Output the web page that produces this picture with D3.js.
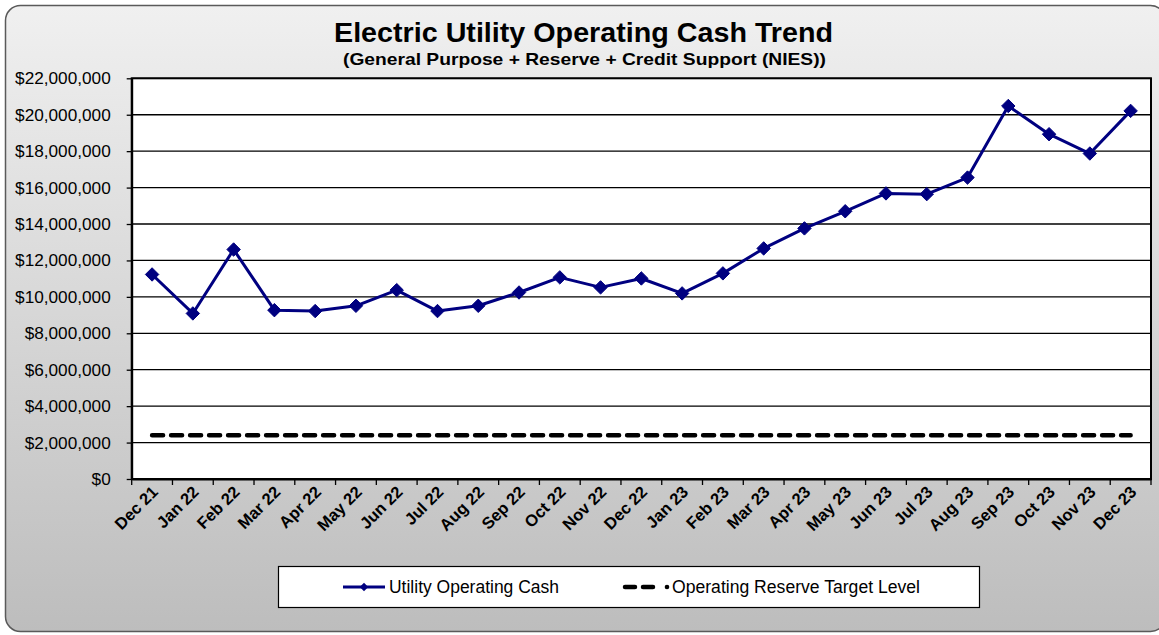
<!DOCTYPE html>
<html><head><meta charset="utf-8">
<script src="https://cdn.jsdelivr.net/npm/d3@7"></script>
<style>html,body{margin:0;padding:0;background:#fff;}svg{display:block;font-family:"Liberation Sans",Arial,sans-serif;}</style>
</head><body>
<script>
const categories = ["Dec 21","Jan 22","Feb 22","Mar 22","Apr 22","May 22","Jun 22","Jul 22","Aug 22","Sep 22","Oct 22","Nov 22","Dec 22","Jan 23","Feb 23","Mar 23","Apr 23","May 23","Jun 23","Jul 23","Aug 23","Sep 23","Oct 23","Nov 23","Dec 23"];
const operatingCash = [11230000,9090000,12600000,9270000,9220000,9510000,10370000,9220000,9510000,10240000,11070000,10520000,11010000,10190000,11290000,12660000,13760000,14700000,15680000,15640000,16550000,20480000,18930000,17870000,20210000];
const reserveTarget = categories.map(() => 2400000);
const yTicks = [0,2000000,4000000,6000000,8000000,10000000,12000000,14000000,16000000,18000000,20000000,22000000];
const titleText = "Electric Utility Operating Cash Trend";
const subtitleText = "(General Purpose + Reserve + Credit Support (NIES))";
const legendLabels = ["Utility Operating Cash","Operating Reserve Target Level"];

const W = 1159, H = 635;
const plot = {left:131.7, right:1151, top:78.3, bottom:479};
const svg = d3.select("body").append("svg").attr("width",W).attr("height",H);

const defs = svg.append("defs");
const grad = defs.append("linearGradient").attr("id","bg").attr("x1",0).attr("y1",0).attr("x2",0).attr("y2",1);
grad.append("stop").attr("offset","0%").attr("stop-color","#f0f0f0");
grad.append("stop").attr("offset","100%").attr("stop-color","#bdbdbd");

svg.append("rect").attr("x",5.5).attr("y",5.5).attr("width",1160).attr("height",626).attr("rx",15)
  .attr("fill","url(#bg)").attr("stroke","#5a5a5a").attr("stroke-width",1.5);

svg.append("text").attr("x",334).attr("y",42)
  .attr("font-size",28).attr("font-weight","bold").attr("fill","#000")
  .attr("textLength",499).attr("lengthAdjust","spacingAndGlyphs").text(titleText);
svg.append("text").attr("x",343).attr("y",65)
  .attr("font-size",17).attr("font-weight","bold").attr("fill","#000")
  .attr("textLength",483).attr("lengthAdjust","spacingAndGlyphs").text(subtitleText);

const x = d3.scaleBand().domain(categories).range([plot.left,plot.right]).padding(0);
const y = d3.scaleLinear().domain([0,22000000]).range([plot.bottom,plot.top]);

svg.append("rect").attr("x",plot.left).attr("y",plot.top).attr("width",plot.right-plot.left).attr("height",plot.bottom-plot.top)
  .attr("fill","#fff");

svg.append("g").selectAll("line").data(yTicks.filter(d=>d>0)).join("line")
  .attr("x1",plot.left).attr("x2",plot.right).attr("y1",d=>y(d)).attr("y2",d=>y(d))
  .attr("stroke","#000").attr("stroke-width",1.3);

svg.append("rect").attr("x",plot.left).attr("y",plot.top).attr("width",plot.right-plot.left).attr("height",plot.bottom-plot.top)
  .attr("fill","none").attr("stroke","#000").attr("stroke-width",2);

const fmt = d => "$" + d3.format(",")(d);
const yAxis = d3.axisLeft(y).tickValues(yTicks).tickSizeInner(5).tickSizeOuter(0).tickPadding(16).tickFormat(fmt);
const gy = svg.append("g").attr("transform",`translate(${plot.left},0)`).call(yAxis);
gy.select(".domain").attr("stroke","#000").attr("stroke-width",2);
gy.selectAll(".tick line").attr("stroke","#000").attr("stroke-width",1.3);
gy.selectAll(".tick text").attr("font-size",17.2).attr("fill","#000").attr("font-family","Liberation Sans, Arial, sans-serif");

const xAxis = d3.axisBottom(x).tickSize(0).tickPadding(0);
const gx = svg.append("g").attr("transform",`translate(0,${plot.bottom})`).call(xAxis);
gx.select(".domain").attr("stroke","#000").attr("stroke-width",2);
gx.selectAll(".tick text").attr("font-size",16.5).attr("font-weight","bold").attr("fill","#000")
  .attr("font-family","Liberation Sans, Arial, sans-serif")
  .attr("text-anchor","end").attr("dy",0).attr("transform","translate(7,14) rotate(-45)");
const boundaries = categories.map(c=>x(c)).concat([x(categories[categories.length-1])+x.bandwidth()]);
svg.append("g").selectAll("line").data(boundaries).join("line")
  .attr("x1",d=>d).attr("x2",d=>d).attr("y1",plot.bottom).attr("y2",plot.bottom+6)
  .attr("stroke","#000").attr("stroke-width",1.3);

const cx = c => x(c) + x.bandwidth()/2;

svg.append("path").datum(reserveTarget)
  .attr("d", d3.line().x((d,i)=>cx(categories[i])).y(d=>y(d)))
  .attr("fill","none").attr("stroke","#000").attr("stroke-width",4.5)
  .attr("stroke-dasharray","11 8").attr("stroke-linecap","round");

const navy = "#000080";
svg.append("path").datum(operatingCash)
  .attr("d", d3.line().x((d,i)=>cx(categories[i])).y(d=>y(d)))
  .attr("fill","none").attr("stroke",navy).attr("stroke-width",3).attr("stroke-linejoin","round");
const diamond = d3.symbol().type(d3.symbolDiamond2).size(115);
svg.append("g").selectAll("path").data(operatingCash).join("path")
  .attr("d",diamond)
  .attr("transform",(d,i)=>`translate(${cx(categories[i])},${y(d)})`)
  .attr("fill",navy).attr("stroke",navy).attr("stroke-width",1);

const lg = svg.append("g");
lg.append("rect").attr("x",278.5).attr("y",566.5).attr("width",701).attr("height",41)
  .attr("fill","#fff").attr("stroke","#000").attr("stroke-width",1.2);
lg.append("line").attr("x1",343).attr("x2",385).attr("y1",587).attr("y2",587).attr("stroke",navy).attr("stroke-width",3);
lg.append("path").attr("d",d3.symbol().type(d3.symbolDiamond2).size(45)).attr("transform","translate(364,587)").attr("fill",navy);
lg.append("text").attr("x",389).attr("y",593).attr("font-size",17.5).attr("fill","#000")
  .attr("textLength",170).attr("lengthAdjust","spacingAndGlyphs").text(legendLabels[0]);
lg.append("line").attr("x1",625).attr("x2",656).attr("y1",587).attr("y2",587).attr("stroke","#000").attr("stroke-width",4.5)
  .attr("stroke-dasharray","10 8").attr("stroke-linecap","round");
lg.append("circle").attr("cx",667).attr("cy",587).attr("r",2.3).attr("fill","#000");
lg.append("text").attr("x",672).attr("y",593).attr("font-size",17.5).attr("fill","#000")
  .attr("textLength",248).attr("lengthAdjust","spacingAndGlyphs").text(legendLabels[1]);
</script>
</body></html>
